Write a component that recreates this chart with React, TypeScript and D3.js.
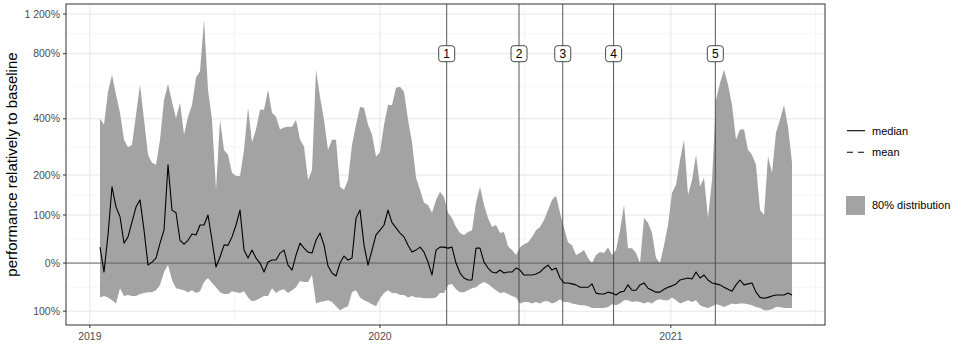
import React from 'react';
import * as d3 from 'd3';

// sampled every ~5 days from mid-January 2019 (values in % relative to baseline)
const SAMPLE_START = new Date(2019, 0, 13, 19);
const SAMPLE_STEP_DAYS = 5.033;

// upper bound of the 80% distribution band
const upperPct = [
  400, 374, 537, 642, 520, 428, 314, 287, 296, 418,
  578, 396, 262, 236, 230, 314, 492, 584, 482, 402,
  477, 334, 409, 466, 624, 666, 1132, 548, 396, 160,
  396, 278, 262, 206, 197, 197, 278, 452, 305, 354,
  442, 442, 548, 428, 409, 354, 362, 366, 366, 396,
  314, 290, 186, 214, 678, 508, 396, 278, 314, 314,
  168, 160, 186, 296, 374, 456, 452, 374, 334, 256,
  270, 374, 466, 466, 561, 567, 537, 396, 305, 192,
  160, 128, 123, 105, 135, 155, 142, 105, 93, 74,
  61, 57, 63, 67, 128, 168, 123, 93, 74, 78,
  61, 63, 34, 26, 16, 32, 38, 42, 53, 67,
  74, 89, 111, 135, 145, 105, 72, 42, 36, 16,
  20, 26, 10, 0, 16, 22, 20, 32, 16, 26,
  67, 123, 30, 30, 20, 0, 93, 83, 61, 10,
  0, 36, 78, 152, 173, 244, 314, 147, 186, 262,
  168, 192, 93, 186, 492, 590, 678, 578, 466, 314,
  354, 354, 278, 262, 230, 111, 100, 256, 206, 342,
  396, 466, 366, 236,
];

// lower bound of the 80% distribution band
const lowerPct = [
  -70, -67, -70, -76, -83, -51, -67, -65, -67, -67,
  -63, -61, -59, -59, -55, -44, -18, -4, -34, -51,
  -53, -55, -59, -55, -61, -57, -38, -30, -40, -49,
  -59, -63, -63, -57, -59, -61, -57, -70, -78, -76,
  -72, -67, -67, -51, -61, -55, -53, -61, -55, -49,
  -36, -38, -38, -24, -83, -80, -78, -76, -80, -89,
  -98, -93, -89, -59, -55, -70, -76, -80, -85, -89,
  -72, -61, -55, -61, -61, -65, -65, -70, -67, -70,
  -70, -72, -72, -72, -70, -61, -61, -44, -42, -53,
  -59, -59, -55, -51, -49, -42, -38, -42, -49, -55,
  -61, -59, -63, -67, -70, -83, -80, -80, -83, -80,
  -83, -78, -78, -83, -80, -74, -80, -80, -83, -85,
  -87, -87, -89, -93, -93, -93, -93, -91, -85, -87,
  -83, -76, -76, -80, -78, -80, -83, -80, -83, -76,
  -74, -76, -76, -70, -76, -83, -80, -76, -80, -76,
  -87, -91, -93, -89, -85, -87, -91, -87, -83, -85,
  -83, -83, -85, -87, -91, -93, -98, -98, -96, -91,
  -91, -93, -93, -93,
];

const medianPct = [
  32, -18, 57, 168, 118, 96, 40, 53, 85, 118,
  135, 67, -4, 2, 10, 40, 67, 230, 111, 105,
  46, 38, 46, 59, 57, 78, 78, 100, 46, -8,
  12, 36, 36, 53, 78, 111, 26, 10, 26, 10,
  0, -18, 2, 6, 6, 20, 26, -4, -14, 16,
  40, 30, 22, 20, 46, 61, 36, -6, -20, -26,
  0, 14, 6, 10, 93, 111, 36, -4, 26, 57,
  67, 78, 111, 83, 72, 61, 53, 36, 22, 26,
  32, 22, 2, -24, 26, 32, 32, 30, 32, 0,
  -20, -30, -34, -34, 30, 30, 2, -10, -18, -20,
  -14, -20, -18, -18, -10, -14, -24, -24, -24, -22,
  -18, -10, -4, -14, -10, -30, -40, -40, -42, -44,
  -49, -49, -49, -42, -61, -63, -63, -59, -61, -65,
  -59, -57, -44, -55, -55, -44, -40, -51, -55, -59,
  -59, -53, -49, -46, -42, -34, -32, -30, -32, -18,
  -30, -24, -34, -40, -42, -44, -49, -53, -57, -44,
  -34, -44, -42, -40, -59, -70, -72, -70, -67, -65,
  -65, -65, -61, -65,
];

// numbered events
const eventDates = [
  new Date(2020, 2, 25),
  new Date(2020, 5, 24),
  new Date(2020, 7, 18),
  new Date(2020, 9, 21),
  new Date(2021, 1, 26),
];
const eventLabels = ['1', '2', '3', '4', '5'];
const EVENT_LABEL_Y = 800;

const yBreaks = [-100, 0, 100, 200, 400, 800, 1200];
const yTickLabels = ['100%', '0%', '100%', '200%', '400%', '800%', '1 200%'];
const xBreaks = [new Date(2019, 0, 1), new Date(2020, 0, 1), new Date(2021, 0, 1)];
const xMinorBreaks = [new Date(2019, 6, 2), new Date(2020, 6, 1), new Date(2021, 6, 2)];

const FONT = '"Liberation Sans", Arial, Helvetica, sans-serif';
const W = 956;
const H = 347;
const panel = { left: 66, right: 825, top: 4, bottom: 325 };

// pseudo-log transform (asinh), the axis is linear in this space
const tf = (v: number) => Math.asinh(v / 200);

type Row = { date: Date; upper: number; lower: number; median: number };

const rows: Row[] = upperPct.map((u, i) => ({
  date: new Date(SAMPLE_START.getTime() + i * SAMPLE_STEP_DAYS * 864e5),
  upper: u,
  lower: lowerPct[i],
  median: medianPct[i],
}));

const App: React.FC = () => {
  const x = d3.scaleTime()
    .domain([new Date(2018, 11, 2), new Date(2021, 6, 14)])
    .range([panel.left, panel.right]);
  const yT = d3.scaleLinear()
    .domain([tf(-132), tf(1328)])
    .range([panel.bottom, panel.top]);
  const y = (v: number) => yT(tf(v));

  const band = d3.area<Row>()
    .x(d => x(d.date))
    .y0(d => y(d.lower))
    .y1(d => y(d.upper));
  const medianLine = d3.line<Row>()
    .x(d => x(d.date))
    .y(d => y(d.median));

  // minor y grid: midpoints between breaks in transformed space
  const tBreaks = yBreaks.map(tf);
  const yMinor = tBreaks.slice(1).map((t, i) => (t + tBreaks[i]) / 2);

  return (
    <div style={{ position: 'absolute', left: 0, top: 0 }}>
      <svg width={W} height={H} style={{ display: 'block', fontFamily: FONT }}>
        <rect x={0} y={0} width={W} height={H} fill="#ffffff" />
        <rect x={panel.left} y={panel.top} width={panel.right - panel.left}
          height={panel.bottom - panel.top} fill="#ffffff" />

        {/* grid */}
        {yMinor.map((t, i) => (
          <line key={'ym' + i} x1={panel.left} x2={panel.right} y1={yT(t)} y2={yT(t)}
            stroke="#f0f0f0" strokeWidth={0.6} />
        ))}
        {xMinorBreaks.map((d, i) => (
          <line key={'xm' + i} x1={x(d)} x2={x(d)} y1={panel.top} y2={panel.bottom}
            stroke="#f0f0f0" strokeWidth={0.6} />
        ))}
        {yBreaks.map((v, i) => (
          <line key={'yg' + i} x1={panel.left} x2={panel.right} y1={y(v)} y2={y(v)}
            stroke="#e6e6e6" strokeWidth={1} />
        ))}
        {xBreaks.map((d, i) => (
          <line key={'xg' + i} x1={x(d)} x2={x(d)} y1={panel.top} y2={panel.bottom}
            stroke="#e6e6e6" strokeWidth={1} />
        ))}

        {/* 80% distribution */}
        <path d={band(rows) || ''} fill="#a3a3a3" stroke="none" />

        {/* baseline and events */}
        <line x1={panel.left} x2={panel.right} y1={y(0)} y2={y(0)} stroke="#555555" strokeWidth={0.9} />
        {eventDates.map((d, i) => (
          <line key={'ev' + i} x1={x(d)} x2={x(d)} y1={panel.top} y2={panel.bottom}
            stroke="#444444" strokeWidth={0.9} />
        ))}

        <path d={medianLine(rows) || ''} fill="none" stroke="#000000" strokeWidth={1.1}
          strokeLinejoin="round" />

        {eventDates.map((d, i) => (
          <g key={'lab' + i} transform={`translate(${x(d)},${y(EVENT_LABEL_Y)})`}>
            <rect x={-8} y={-8} width={16} height={16} rx={3} fill="#ffffff"
              stroke="#333333" strokeWidth={0.9} />
            <text textAnchor="middle" dy="0.36em" fontSize={12} fill="#000000">{eventLabels[i]}</text>
          </g>
        ))}

        <rect x={panel.left} y={panel.top} width={panel.right - panel.left}
          height={panel.bottom - panel.top} fill="none" stroke="#333333" strokeWidth={1} />

        {/* y axis */}
        {yBreaks.map((v, i) => (
          <g key={'yt' + i}>
            <line x1={panel.left - 3} x2={panel.left} y1={y(v)} y2={y(v)} stroke="#333333" strokeWidth={1} />
            <text x={panel.left - 6} y={y(v)} dy="0.35em" textAnchor="end" fontSize={10.5} fill="#4d4d4d">
              {yTickLabels[i]}
            </text>
          </g>
        ))}
        <text transform={`translate(17,${(panel.top + panel.bottom) / 2}) rotate(-90)`}
          textAnchor="middle" fontSize={15} fill="#000000">
          performance relatively to baseline
        </text>

        {/* x axis */}
        {xBreaks.map((d, i) => (
          <g key={'xt' + i}>
            <line x1={x(d)} x2={x(d)} y1={panel.bottom} y2={panel.bottom + 3} stroke="#333333" strokeWidth={1} />
            <text x={x(d)} y={339.5} textAnchor="middle" fontSize={10.5} fill="#4d4d4d">
              {d3.timeFormat('%Y')(d)}
            </text>
          </g>
        ))}

        {/* legend */}
        <line x1={847} x2={865} y1={130.7} y2={130.7} stroke="#000000" strokeWidth={1.1} />
        <text x={872} y={130.7} dy="0.35em" fontSize={11} fill="#000000">median</text>
        <line x1={847} x2={865} y1={152.3} y2={152.3} stroke="#000000" strokeWidth={1.1}
          strokeDasharray="6,5" />
        <text x={872} y={152.3} dy="0.35em" fontSize={11} fill="#000000">mean</text>
        <rect x={846} y={196} width={19} height={19} fill="#a3a3a3" />
        <text x={872} y={205.5} dy="0.35em" fontSize={11} fill="#000000">80% distribution</text>
      </svg>
    </div>
  );
};

export default App;
